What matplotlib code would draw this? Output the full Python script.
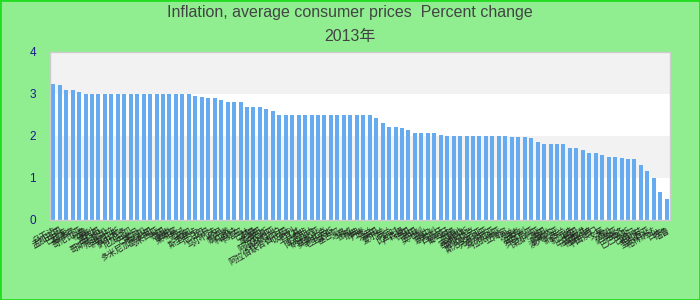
import matplotlib
matplotlib.use("Agg")
import matplotlib.pyplot as plt
import numpy as np

plt.rcParams['font.family'] = ['Liberation Sans', 'Noto Sans CJK SC', 'DejaVu Sans']

title_line1 = "Inflation, average consumer prices  Percent change"
title_line2 = "2013年"

countries = [
    "乌干达", "孟加拉国", "巴拉圭", "菲律宾", "哥伦比亚", "秘鲁", "智利", "墨西哥",
    "哥斯达黎加", "危地马拉", "洪都拉斯", "萨尔瓦多", "尼加拉瓜", "巴拿马", "牙买加", "多米尼加共和国",
    "马来西亚", "泰国", "越南", "柬埔寨", "老挝", "缅甸", "斯里兰卡", "尼泊尔",
    "不丹", "马尔代夫", "约旦", "黎巴嫩", "科威特", "卡塔尔", "巴林", "阿曼",
    "摩洛哥", "突尼斯", "阿尔及利亚", "沙特阿拉伯", "阿拉伯联合酋长国", "以色列", "土耳其", "南非",
    "博茨瓦纳", "纳米比亚", "莫桑比克", "毛里求斯", "塞舌尔", "冰岛", "挪威", "瑞典",
    "丹麦", "芬兰", "英国", "爱尔兰", "荷兰", "比利时", "卢森堡", "德国",
    "法国", "奥地利", "瑞士", "意大利", "西班牙", "葡萄牙", "希腊", "马耳他",
    "塞浦路斯", "斯洛伐克", "斯洛文尼亚", "克罗地亚", "爱沙尼亚", "拉脱维亚", "立陶宛", "波兰",
    "捷克", "匈牙利", "罗马尼亚", "保加利亚", "美国", "加拿大", "澳大利亚", "新西兰",
    "新加坡", "韩国", "中国香港", "中国台湾", "中国澳门", "文莱", "汤加", "萨摩亚",
    "斐济", "巴巴多斯", "巴哈马", "伯利兹", "圣卢西亚", "格林纳达", "日本", "瑙鲁",
]

values = [
    3.24, 3.21, 3.1, 3.1, 3.05,
    3.0, 3.0, 3.0, 3.0, 3.0, 3.0, 3.0, 3.0, 3.0, 3.0, 3.0, 3.0, 3.0, 3.0, 3.0, 3.0, 3.0,
    2.95, 2.93, 2.9, 2.9, 2.86, 2.8, 2.8, 2.8, 2.7, 2.7, 2.68, 2.65, 2.6,
    2.5, 2.5, 2.5, 2.5, 2.5, 2.5, 2.5, 2.5, 2.5, 2.5, 2.5, 2.5, 2.5, 2.5, 2.5,
    2.42, 2.3, 2.21, 2.21, 2.18, 2.15, 2.08, 2.06, 2.06, 2.06, 2.03,
    2.01, 2.01, 2.01, 2.01, 2.01, 2.01, 2.01, 2.01, 2.01, 2.01,
    1.98, 1.98, 1.98, 1.95, 1.86, 1.81, 1.81, 1.81, 1.81, 1.71, 1.71, 1.67,
    1.6, 1.6, 1.55, 1.5, 1.5, 1.47, 1.45, 1.45, 1.3, 1.17, 1.0, 0.67, 0.5,
]

yticks = [0, 1, 2, 3, 4]

fig = plt.figure(figsize=(7, 3), dpi=100, facecolor='#90ee90')
ax = fig.add_axes([50/700, 80/300, 620/700, 168/300])
ax.set_facecolor('white')

# alternating bands
for i in range(len(yticks) - 1):
    if i % 2 == 1:
        ax.axhspan(yticks[i], yticks[i+1], color='#f2f2f2', zorder=0, lw=0)

x = np.arange(len(values))
ax.bar(x, values, width=0.62, color='#66aaf0', zorder=2)
ax.set_xlim(-0.5, len(values) - 0.5)
ax.set_ylim(0, 4)
ax.set_yticks(yticks)
ax.set_yticklabels([str(t) for t in yticks], color='#1a1a8c', fontsize=8.5)
ax.tick_params(axis='y', length=0, pad=10)
ax.set_xticks(x)
ax.set_xticklabels(countries, rotation=30, ha='right', rotation_mode='anchor',
                   fontsize=6, color='#222222',
                   family=['Noto Sans CJK SC', 'DejaVu Sans'])
ax.tick_params(axis='x', length=0, pad=4)
for s in ax.spines.values():
    s.set_color('#cccccc')
    s.set_linewidth(1)

fig.text(0.5, 1 - 13/300, title_line1, ha='center', va='center', fontsize=11.5, color='#444444')
fig.text(0.5, 1 - 37/300, title_line2, ha='center', va='center', fontsize=11.5, color='#444444')

# outer green border
fig.patches.append(plt.Rectangle((0, 0), 1, 1, transform=fig.transFigure,
                                 fill=False, edgecolor='#22dd22', linewidth=2))

fig.savefig('out.png', dpi=100, facecolor=fig.get_facecolor())
